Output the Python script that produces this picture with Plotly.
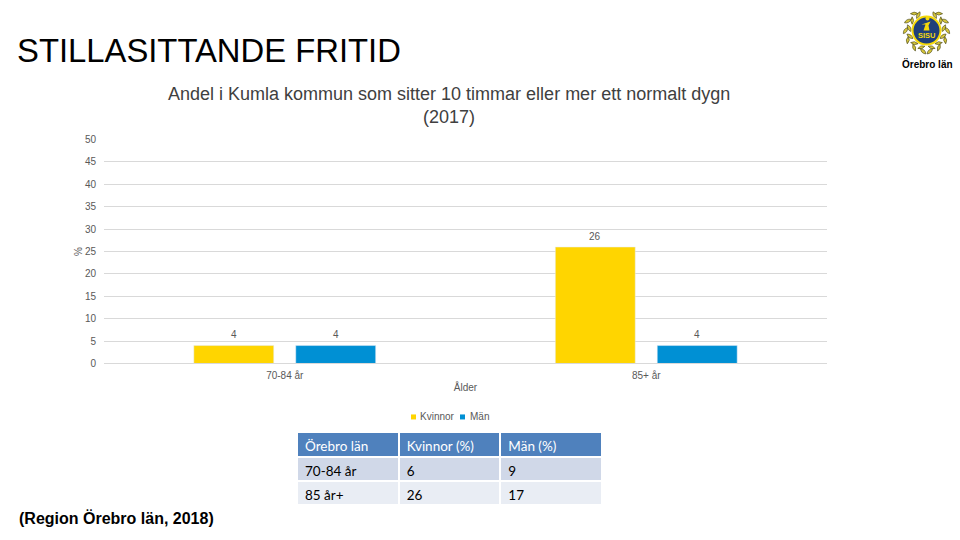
import math
import plotly.graph_objects as go

categories = ["70-84 år", "85+ år"]
kvinnor = [4, 26]
man = [4, 4]
y_ticks = list(range(0, 55, 5))
table_header = ["Örebro län", "Kvinnor (%)", "Män (%)"]
table_age = ["70-84 år", "85 år+"]
table_kvinnor = [6, 26]
table_man = [9, 17]

W, H = 960, 540
def px(x): return x / W
def py(y): return 1 - (y - 5.4) / 529.2

GREY = "#595959"
YEL = "#FFD500"
BLU = "#0090D4"
NAVY = "#1F3F7A"
GOLD = "#D6C63A"
fig = go.Figure()
fig.add_bar(name="Kvinnor", x=categories, y=kvinnor, marker_color=YEL)
fig.add_bar(name="Män", x=categories, y=man, marker_color=BLU)

fig.add_trace(go.Table(
    domain=dict(x=[px(297), px(602)], y=[py(506), py(432)]),
    columnwidth=[100, 100, 100],
    header=dict(values=table_header, fill_color="#4F81BD", height=25,
                line=dict(color="white", width=2), align="left",
                font=dict(family="Lato", size=13.5, color="white")),
    cells=dict(values=[table_age, table_kvinnor, table_man], height=24,
               fill_color=[["#D0D8E8", "#E9EDF4"]] * 3,
               line=dict(color="white", width=2), align="left",
               font=dict(family="Lato", size=13.5, color="black")),
))

annotations = [
    dict(text="STILLASITTANDE FRITID", x=px(15), y=py(49.5), xanchor="left", yanchor="middle",
         font=dict(family="Liberation Sans", size=32.8, color="black")),
    dict(text="Andel i Kumla kommun som sitter 10 timmar eller mer ett normalt dygn<br>(2017)",
         x=px(449), y=py(105), xanchor="center", yanchor="middle",
         font=dict(family="Liberation Sans", size=18, color="#404040")),
    dict(text="<b>(Region Örebro län, 2018)</b>", x=px(17), y=py(518), xanchor="left", yanchor="middle",
         font=dict(family="Liberation Sans", size=16, color="black")),
    dict(text="<b>Örebro län</b>", x=px(927), y=py(63), xanchor="center", yanchor="middle",
         font=dict(family="Liberation Sans", size=10, color="black")),
    dict(text="<b>SISU</b>", x=px(926.5), y=py(35), xanchor="center", yanchor="middle",
         font=dict(family="Liberation Sans", size=7.5, color="#F5D90A")),
    dict(text="Kvinnor", x=px(418), y=py(416), xanchor="left", yanchor="middle",
         font=dict(size=10, color=GREY)),
    dict(text="Män", x=px(468), y=py(416), xanchor="left", yanchor="middle",
         font=dict(size=10, color=GREY)),
]
for a in annotations:
    a.update(xref="paper", yref="paper", showarrow=False)

# value labels tied to the data through the axes
for vals, shift in ((kvinnor, -51), (man, 51)):
    for c, v in zip(categories, vals):
        annotations.append(dict(x=c, y=v, xref="x", yref="y", text=str(v), showarrow=False,
                                xshift=shift, yshift=11, yanchor="middle",
                                font=dict(size=10, color=GREY)))

# logo emblem
cx, cy = 926.5, 30
shapes = []

def leaf(ang_deg, r, side, tilt_deg, length=7.5, width=3.0):
    a = math.radians(ang_deg)
    lx = cx + side * r * math.sin(a)
    ly = cy - r * math.cos(a)
    t = math.radians(ang_deg + tilt_deg)
    dx, dy = side * math.cos(t), math.sin(t)
    nx, ny = -dy, dx
    p0 = (lx - dx * length / 2, ly - dy * length / 2)
    p1 = (lx + dx * length / 2, ly + dy * length / 2)
    m1 = (lx + nx * width, ly + ny * width)
    m2 = (lx - nx * width, ly - ny * width)
    path = (f"M {px(p0[0])},{py(p0[1])} Q {px(m1[0])},{py(m1[1])} {px(p1[0])},{py(p1[1])} "
            f"Q {px(m2[0])},{py(m2[1])} {px(p0[0])},{py(p0[1])} Z")
    return dict(type="path", xref="paper", yref="paper", path=path, fillcolor=GOLD,
                line=dict(width=0.6, color="#3F3F1C"))

for side in (-1, 1):
    for ang in (28, 55, 82, 109, 136, 163):
        shapes.append(leaf(ang, 17.5, side, 35))
        shapes.append(leaf(ang + 8, 21, side, -35))

shapes.append(dict(type="circle", xref="paper", yref="paper", x0=px(cx - 15), x1=px(cx + 15),
                   y0=py(cy + 15), y1=py(cy - 15), fillcolor="#F5D90A", line=dict(width=0)))
shapes.append(dict(type="circle", xref="paper", yref="paper", x0=px(cx - 13), x1=px(cx + 13),
                   y0=py(cy + 13), y1=py(cy - 13), fillcolor=NAVY, line=dict(width=0)))
# small runner figure inside the emblem
shapes.append(dict(type="circle", xref="paper", yref="paper", x0=px(cx - 1), x1=px(cx + 3),
                   y0=py(cy - 10), y1=py(cy - 14), fillcolor="#F5D90A", line=dict(width=0)))
shapes.append(dict(type="path", xref="paper", yref="paper",
                   path=f"M {px(cx-5)},{py(cy-6)} L {px(cx+4)},{py(cy-9)} L {px(cx+2)},{py(cy-5)} "
                        f"L {px(cx+3)},{py(cy)} L {px(cx-3)},{py(cy)} L {px(cx-1)},{py(cy-6)} Z",
                   fillcolor="#F5D90A", line=dict(width=0)))
# legend swatches
shapes.append(dict(type="rect", xref="paper", yref="paper", x0=px(411), x1=px(416),
                   y0=py(419), y1=py(414), fillcolor=YEL, line=dict(width=0)))
shapes.append(dict(type="rect", xref="paper", yref="paper", x0=px(460), x1=px(465),
                   y0=py(419), y1=py(414), fillcolor=BLU, line=dict(width=0)))

fig.update_layout(
    width=W, height=H, paper_bgcolor="white", plot_bgcolor="white",
    margin=dict(l=0, r=0, t=0, b=0), showlegend=False,
    barmode="group", bargap=0.436, bargroupgap=0.216,
    font=dict(family="Liberation Sans", size=10, color=GREY),
    annotations=annotations, shapes=shapes,
    xaxis=dict(domain=[px(104), px(827)], anchor="y", showline=True, linecolor="#D9D9D9", linewidth=1,
               ticks="", tickfont=dict(size=10, color=GREY), ticklabelstandoff=3,
               title=dict(text="Ålder", font=dict(size=10, color=GREY), standoff=3)),
    yaxis=dict(domain=[py(363), py(139)], range=[0, 50], tickvals=y_ticks, gridcolor="#D9D9D9", gridwidth=1,
               zeroline=False, ticks="", tickfont=dict(size=10, color=GREY), ticklabelstandoff=7,
               title=dict(text="%", font=dict(size=10, color=GREY), standoff=0)),
)
fig.write_html("out.html", post_script="document.body.style.margin='0';",
               config={"displayModeBar": False})
